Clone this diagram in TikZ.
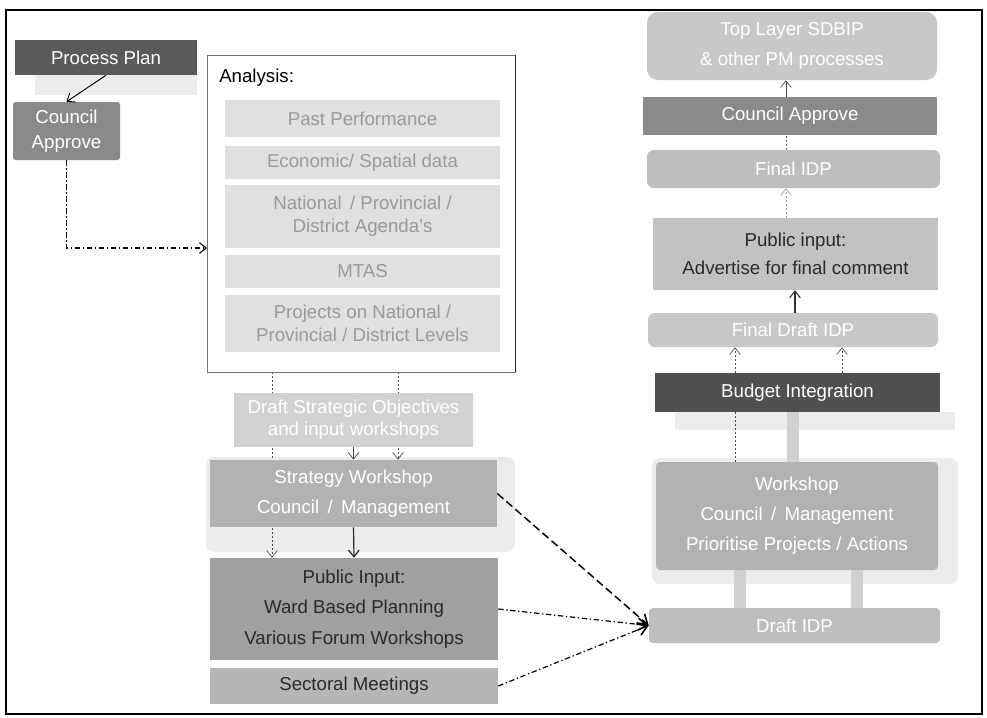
\documentclass[tikz,border=0pt]{standalone}
\usepackage{fontspec}
\setmainfont{Liberation Sans}
\usetikzlibrary{arrows.meta}
\pgfdeclarelayer{background}
\pgfsetlayers{background,main}
\definecolor{cpp}{HTML}{5A5A5A}
\definecolor{cca}{HTML}{8A8A8A}
\definecolor{clite}{HTML}{E0E0E0}
\definecolor{clitetxt}{HTML}{9A9A9A}
\definecolor{cds}{HTML}{D2D2D2}
\definecolor{csw}{HTML}{B2B2B2}
\definecolor{cpin}{HTML}{A0A0A0}
\definecolor{csec}{HTML}{B6B6B6}
\definecolor{ctop}{HTML}{C8C8C8}
\definecolor{cfidp}{HTML}{BEBEBE}
\definecolor{cpin2}{HTML}{C2C2C2}
\definecolor{cbud}{HTML}{505050}
\definecolor{cglow}{HTML}{ECECEC}
\definecolor{cbar}{HTML}{D0D0D0}
\definecolor{cdark}{HTML}{2A2A2A}
\begin{document}
\begin{tikzpicture}[x=0.75pt,y=-0.75pt,
  box/.style={draw=none, inner sep=0pt, align=center, font=\fontsize{14}{17}\selectfont},
  wd/.style={minimum width={#1*0.75pt}},
  ht/.style={minimum height={#1*0.75pt}},
  tip/.style={-{Straight Barb[length=5pt,width=8pt]}},
  bigtip/.style={-{Straight Barb[length=7pt,width=9pt,line width=1.2pt]}},
  dd/.style={dash pattern=on 4pt off 2pt on 1pt off 2pt},
  dot/.style={dash pattern=on 1pt off 2pt},
  bar/.style={draw=cbar, line width=9pt},
  glow/.style={fill=cglow, draw=none}
]
\useasboundingbox (0,0) rectangle (987,717);
\begin{pgfonlayer}{background}
\fill[white] (0,0) rectangle (987,717);
% ---------- glows / shadows ----------
\fill[glow] (35,75) rectangle (197,95);
\fill[glow, rounded corners=6pt] (206,457) rectangle (515,552);
\fill[glow] (675,412) rectangle (955,430);
\fill[glow, rounded corners=6pt] (652,458) rectangle (958,584);
\end{pgfonlayer}
% frame
\draw[line width=1.2pt] (6,10) rectangle (982,714);

% ---------- left column ----------
\node[box, wd=182, ht=35, fill=cpp, text=white] (pp) at (106,57.5) {Process Plan};
\node[box, wd=107, ht=58, fill=cca, text=white, rounded corners=2pt, font=\fontsize{14}{19}\selectfont] (ca1) at (66.5,131) {Council\\Approve};

\node[draw=black!55, fill=white, inner sep=0pt, wd=308, ht=317] (an) at (361,213.5) {};
\draw[black!85, line width=0.8pt] (an.north east) -- (an.south east);
\node[box, anchor=west] (antitle) at (219,78) {Analysis:};
\node[box, wd=275, ht=37, fill=clite, text=clitetxt] (past) at (362.5,118.5) {Past Performance};
\node[box, wd=275, ht=33, fill=clite, text=clitetxt] (econ) at (362.5,162.5) {Economic/ Spatial data};
\node[box, wd=275, ht=63, fill=clite, text=clitetxt, font=\fontsize{14}{17}\selectfont] (natl) at (362.5,216.5) {National \,/ Provincial /\\District Agenda's};
\node[box, wd=275, ht=33, fill=clite, text=clitetxt] (mtas) at (362.5,271.5) {MTAS};
\node[box, wd=275, ht=57, fill=clite, text=clitetxt, font=\fontsize{14}{17}\selectfont] (proj) at (362.5,323.5) {Projects on National /\\Provincial / District Levels};

\node[box, wd=239, ht=54, fill=cds, text=white, font=\fontsize{14}{16.5}\selectfont] (ds) at (353.5,420) {Draft Strategic Objectives\\and input workshops};
\node[box, wd=287, ht=67, fill=csw, text=white, font=\fontsize{14}{22.5}\selectfont] (sw) at (353.5,493.5) {Strategy Workshop\\Council \,/ \,Management};
\node[box, wd=288, ht=102, fill=cpin, text=cdark, font=\fontsize{14}{23}\selectfont] (pin) at (354,609) {Public Input:\\Ward Based Planning\\Various Forum Workshops};
\node[box, wd=288, ht=36, fill=csec, text=cdark] (sec) at (354,686) {Sectoral Meetings};

% ---------- right column ----------
\node[box, wd=290, ht=68, fill=ctop, text=white, rounded corners=8pt, font=\fontsize{14}{22.5}\selectfont] (top) at (792,46) {Top Layer SDBIP\\\& other PM processes};
\node[box, wd=294, ht=38, fill=cca, text=white] (ca2) at (790,116) {Council Approve};
\node[box, wd=293, ht=38, fill=cfidp, text=white, rounded corners=5pt] (fidp) at (793.5,169) {Final IDP};
\node[box, wd=285, ht=72, fill=cpin2, text=cdark, font=\fontsize{14}{21}\selectfont] (pin2) at (795.5,254) {Public input:\\Advertise for final comment};
\node[box, wd=290, ht=34, fill=ctop, text=white, rounded corners=5pt] (fdraft) at (793,330) {Final Draft IDP};
\node[box, wd=285, ht=39, fill=cbud, text=white] (bud) at (797.5,392.5) {Budget Integration};
\node[box, wd=282, ht=108, fill=csw, text=white, rounded corners=3pt, font=\fontsize{14}{22.5}\selectfont] (ws) at (797,516) {Workshop\\Council \,/ \,Management\\Prioritise Projects / Actions};
\node[box, wd=291, ht=35, fill=cfidp, text=white, rounded corners=3pt] (didp) at (794.5,625.5) {Draft IDP};

% ---------- connector helper coordinates ----------
\coordinate (anin) at (207,248);
\coordinate (a1) at (272,0);
\coordinate (a2) at (398,0);
\coordinate (b1) at (735,0);
\coordinate (b2) at (842,0);
\coordinate (bx0) at (793,0);
\coordinate (bx1) at (740,0);
\coordinate (bx2) at (857,0);
\coordinate (c1) at (786,0);
\coordinate (c2) at (795,0);

% ---------- connectors left ----------
\draw[line width=0.7pt, tip] (pp.south) -- (ca1.north);
\draw[line width=0.8pt, dd, tip] (ca1.south) |- (anin);
\begin{pgfonlayer}{background}
\draw[black!70, line width=0.5pt, dot, tip] (an.south -| a1) -- (pin.north -| a1);
\draw[black!70, line width=0.5pt, dot, tip] (an.south -| a2) -- (sw.north -| a2);
\draw[bar] (ws.north -| bx0) -- (bud.south -| bx0);
\draw[bar] (ws.south -| bx1) -- (didp.north -| bx1);
\draw[bar] (ws.south -| bx2) -- (didp.north -| bx2);
\end{pgfonlayer}
\draw[black!70, line width=0.6pt, tip] (ds.south) -- (sw.north);
\draw[black!85, line width=0.9pt, tip] (sw.south) -- (pin.north);
\draw[line width=1.1pt, dash pattern=on 6pt off 3pt, bigtip] (sw.east) -- (didp.west);
\draw[line width=0.9pt, dd, bigtip] (pin.east) -- (didp.west);
\draw[line width=0.9pt, dd, bigtip] (sec.east) -- (didp.west);

% ---------- connectors right ----------
\draw[black!70, line width=0.5pt, tip] (ca2.north -| c1) -- (top.south -| c1);
\draw[black!60, line width=0.5pt, dot] (fidp.north -| c1) -- (ca2.south -| c1);
\draw[black!40, line width=0.5pt, dot, tip] (pin2.north -| c1) -- (fidp.south -| c1);
\draw[black!80, line width=0.8pt, tip] (fdraft.north -| c2) -- (pin2.south -| c2);
\draw[black!70, line width=0.5pt, dot, tip] (bud.north -| b1) -- (fdraft.south -| b1);
\draw[black!70, line width=0.5pt, dot, tip] (bud.north -| b2) -- (fdraft.south -| b2);
\draw[black!70, line width=0.5pt, dot] (ws.north -| b1) -- (bud.south -| b1);
\end{tikzpicture}
\end{document}
